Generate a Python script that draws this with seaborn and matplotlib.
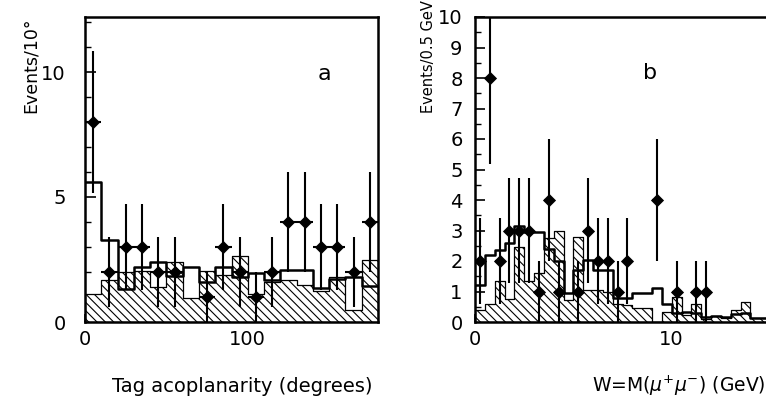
import numpy as np
import pandas as pd
import matplotlib
matplotlib.use("Agg")
import matplotlib.pyplot as plt
import seaborn as sns

# ---------------- data ----------------
# Panel a: tag acoplanarity, 10 degree bins, 0..180
acop_edges = list(range(0, 190, 10))
acop_data = [8, 2, 3, 3, 2, 2, 0, 1, 3, 2, 1, 2, 4, 4, 3, 3, 2, 4]
acop_hatched = [1.13, 1.7, 2.0, 2.05, 1.4, 2.4, 0.97, 2.05, 1.87, 2.63,
                1.1, 1.6, 1.7, 1.5, 1.24, 1.78, 0.48, 2.47]
acop_open = [5.6, 3.3, 1.33, 2.2, 2.4, 1.85, 2.2, 1.6, 2.2, 1.8,
             1.95, 1.67, 2.07, 2.07, 1.35, 1.7, 1.8, 1.45]

# Panel b: W = M(mu+ mu-), 0.5 GeV bins, 0..15
mass_edges = [i * 0.5 for i in range(31)]
mass_data = [2, 8, 2, 3, 3, 3, 1, 4, 1, 0, 1, 3, 2, 2, 1, 2, 0, 0, 4, 0,
             1, 0, 1, 1, 0, 0, 0, 0, 0, 0]
mass_hatched = [0.38, 0.6, 1.35, 0.75, 2.45, 1.35, 1.6, 2.75, 3.0, 0.72,
                2.8, 1.05, 1.05, 1.0, 0.6, 0.56, 0.45, 0.45, 0.0, 0.32,
                0.83, 0.22, 0.6, 0.1, 0.2, 0.12, 0.4, 0.67, 0.12, 0.12]
mass_open = [1.2, 2.2, 2.35, 2.6, 3.15, 2.95, 2.95, 2.4, 2.0, 0.94,
             1.7, 2.03, 1.7, 1.7, 0.8, 0.8, 0.94, 0.94, 1.1, 0.6,
             0.3, 0.34, 0.3, 0.15, 0.2, 0.15, 0.25, 0.3, 0.12, 0.12]

# ---------------- style ----------------
sns.set_theme(style="white")
plt.rcParams['font.family'] = ['DejaVu Sans']
plt.rcParams['hatch.linewidth'] = 0.8
plt.rcParams['hatch.color'] = 'black'
plt.rcParams['text.color'] = 'black'
plt.rcParams['axes.labelcolor'] = 'black'
plt.rcParams['xtick.color'] = 'black'
plt.rcParams['ytick.color'] = 'black'

W, H = 766, 397
fig = plt.figure(figsize=(W / 100, H / 100), dpi=100)
fig.patch.set_facecolor('white')


def px_axes(left, right, top, bottom):
    return fig.add_axes([left / W, (H - bottom) / H, (right - left) / W, (bottom - top) / H])


ax_a = px_axes(85, 378, 17, 322)
ax_b = px_axes(475, 770, 17, 322)


def draw_panel(ax, edges, data, hatched, opn):
    e = np.asarray(edges, float)
    centers = (e[:-1] + e[1:]) / 2
    half = (e[1] - e[0]) / 2
    df = pd.DataFrame({"x": centers, "hatched": hatched, "open": opn,
                       "data": np.asarray(data, float)})
    # hatched histogram
    sns.histplot(data=df, x="x", weights="hatched", bins=list(edges), element="step",
                 fill=True, facecolor="white", edgecolor="black", hatch="\\\\\\\\",
                 linewidth=0.9, ax=ax, zorder=1)
    # open histogram
    sns.histplot(data=df, x="x", weights="open", bins=list(edges), element="step",
                 fill=False, color="black", linewidth=1.8, ax=ax, zorder=2)
    # data points
    pts = df[df["data"] > 0]
    ax.errorbar(pts["x"], pts["data"], yerr=np.sqrt(pts["data"]), xerr=half, fmt="none",
                ecolor="black", elinewidth=1.5, capsize=0, zorder=3)
    sns.scatterplot(data=pts, x="x", y="data", marker="D", s=45, color="black",
                    edgecolor="black", linewidth=0, ax=ax, zorder=4)
    ax.set_xlabel("")
    ax.set_ylabel("")
    for s in ax.spines.values():
        s.set_linewidth(1.8)
        s.set_color("black")


draw_panel(ax_a, acop_edges, acop_data, acop_hatched, acop_open)
draw_panel(ax_b, mass_edges, mass_data, mass_hatched, mass_open)

# axis ranges and ticks
ax_a.set_xlim(0, 180)
ax_a.set_ylim(0, 12.2)
ax_a.set_xticks([0, 100])
ax_a.set_yticks([0, 5, 10])
ax_a.set_yticks(range(0, 13), minor=True)
ax_a.tick_params(axis='both', which='both', direction='in', labelsize=14,
                 colors='black', left=True, bottom=True)
ax_a.tick_params(axis='y', which='major', length=8, width=1.2, pad=14)
ax_a.tick_params(axis='y', which='minor', length=4, width=1.0)
ax_a.tick_params(axis='x', which='major', length=6, width=1.2, pad=6)

ax_b.set_xlim(0, 15)
ax_b.set_ylim(0, 10)
ax_b.set_xticks([0, 10])
ax_b.set_yticks(range(0, 11))
ax_b.set_yticks([i * 0.5 for i in range(21)], minor=True)
ax_b.tick_params(axis='both', which='both', direction='in', labelsize=14,
                 colors='black', left=True, bottom=True)
ax_b.tick_params(axis='y', which='major', length=7, width=1.2, pad=9)
ax_b.tick_params(axis='y', which='minor', length=4, width=1.0)
ax_b.tick_params(axis='x', which='major', length=6, width=1.2, pad=6)

# panel letters
ax_a.text(147, 9.9, "a", fontsize=16, ha="center", va="center", color="black")
ax_b.text(8.9, 8.15, "b", fontsize=16, ha="center", va="center", color="black")

# axis titles
fig.text(31 / W, 1 - 65 / H, "Events/10°", rotation=90, ha="center", va="center",
         fontsize=12.5, color="black")
fig.text(428 / W, 1 - 57 / H, "Events/0.5 GeV", rotation=90, ha="center", va="center",
         fontsize=10.5, color="black")
fig.text(242 / W, 1 - 386 / H, "Tag acoplanarity (degrees)", ha="center", va="center",
         fontsize=14, color="black")
fig.text(679 / W, 1 - 386 / H, r"W=M($\mu^{+}\mu^{-}$) (GeV)", ha="center", va="center",
         fontsize=13.5, color="black")

fig.savefig("out.png", dpi=100, facecolor="white")
